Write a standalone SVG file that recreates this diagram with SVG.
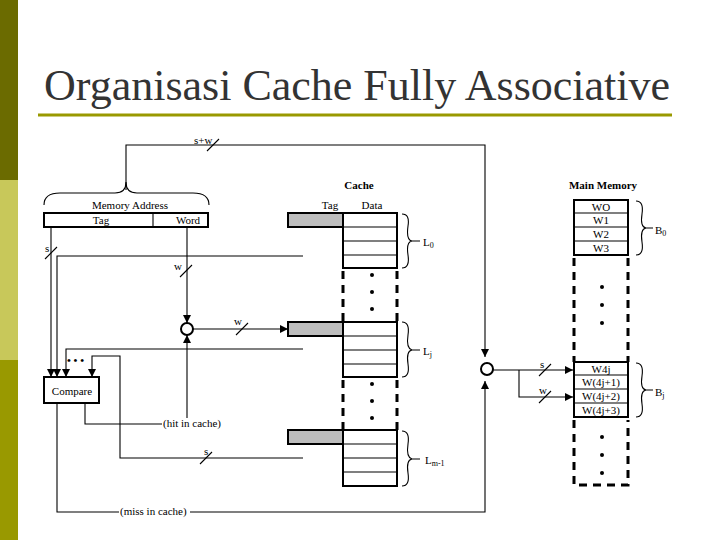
<svg xmlns="http://www.w3.org/2000/svg" width="720" height="540" viewBox="0 0 720 540">
<style>
.l{stroke:#000;stroke-width:1.1;fill:none}
.b{stroke:#000;stroke-width:2;fill:#fff}
.g{stroke:#000;stroke-width:2;fill:#bdbdbd}
.d{stroke:#000;stroke-width:3;stroke-dasharray:8,6;fill:none}
.t{font-family:"Liberation Serif","Times New Roman","DejaVu Serif",serif;font-size:11px;fill:#000}
.title{font-family:"Liberation Serif","Times New Roman","DejaVu Serif",serif;font-size:44px;fill:#333}
.c{text-anchor:middle}
.bo{font-weight:bold}
</style>
<defs><marker id="a" viewBox="0 0 10 10" refX="10" refY="5" markerWidth="8" markerHeight="8" orient="auto" markerUnits="userSpaceOnUse"><path d="M0,0L10,5L0,10z" fill="#000"/></marker></defs>
<rect width="720" height="540" fill="#fff"/>
<rect x="0" y="0" width="18" height="180" fill="#6b6b00"/>
<rect x="0" y="180" width="18" height="180" fill="#c8c85a"/>
<rect x="0" y="360" width="18" height="180" fill="#999900"/>
<text class="title" x="44" y="100">Organisasi Cache Fully Associative</text>
<line x1="38" y1="115" x2="672" y2="115" stroke="#999900" stroke-width="3"/>
<g id="connectors">
<polyline class="l" points="126,190 126,145 485,145 485,357" marker-end="url(#a)"/>
<line class="l" x1="207" y1="151" x2="219" y2="139"/><text class="t" x="194" y="144">s+w</text>
<line class="l" x1="51" y1="227" x2="51" y2="377" marker-end="url(#a)"/>
<line class="l" x1="45" y1="259" x2="57" y2="247"/><text class="t" x="45" y="252">s</text>
<polyline class="l" points="303,256 57,256 57,377" marker-end="url(#a)"/>
<line class="l" x1="187" y1="227" x2="187" y2="323" marker-end="url(#a)"/>
<line class="l" x1="180" y1="277" x2="192" y2="265"/><text class="t" x="174" y="270">w</text>
<line class="l" x1="193" y1="329" x2="288" y2="329" marker-end="url(#a)"/>
<line class="l" x1="236" y1="335" x2="248" y2="323"/><text class="t" x="234" y="325">w</text>
<polyline class="l" points="303,349 66,349 66,377" marker-end="url(#a)"/>
<polyline class="l" points="303,458 120,458 120,356 92,356 92,377" marker-end="url(#a)"/>
<line class="l" x1="200" y1="464" x2="212" y2="452"/><text class="t" x="204" y="455">s</text>
<polyline class="l" points="85,403 85,424 162,424"/>
<line class="l" x1="187" y1="418" x2="187" y2="335" marker-end="url(#a)"/>
<polyline class="l" points="57,403 57,512 119,512"/>
<polyline class="l" points="190,512 485,512 485,381" marker-end="url(#a)"/>
<polyline class="l" points="493,370 573,370" marker-end="url(#a)"/>
<polyline class="l" points="519,370 519,397 573,397" marker-end="url(#a)"/>
<line class="l" x1="539" y1="376" x2="551" y2="364"/><text class="t" x="540" y="368">s</text>
<line class="l" x1="539" y1="403" x2="551" y2="391"/><text class="t" x="539" y="394">w</text>
</g>
<g id="address">
<path class="l" stroke-width="1.8" d="M44,205 Q44,193 60,193 L115,193 Q126,193 126,182 Q126,193 137,193 L193,193 Q209,193 209,205"/>
<text class="t c" x="130" y="209">Memory Address</text>
<rect class="b" x="44" y="213" width="164" height="14" stroke-width="1.5"/>
<line class="l" x1="153" y1="213" x2="153" y2="227" stroke-width="1.5"/>
<text class="t c" x="101" y="224">Tag</text><text class="t c" x="188" y="224">Word</text>
</g>
<g id="compare"><rect class="b" x="44" y="377" width="55" height="26" stroke-width="1.5"/><text class="t c" x="72" y="395">Compare</text>
<text class="t bo" x="67" y="364" font-size="14">• • •</text></g>
<g id="mux1"><circle cx="187" cy="329" r="6" class="b" stroke-width="1.1"/></g>
<g id="mux2"><circle cx="487" cy="369" r="6" class="b" stroke-width="1.1"/></g>
<g id="labels"><text class="t" x="163" y="427">(hit in cache)</text><text class="t" x="120" y="515">(miss in cache)</text></g>
<g id="cache">
<text class="t c bo" x="359" y="189" font-size="12">Cache</text>
<text class="t c" x="330" y="209">Tag</text><text class="t c" x="372" y="209">Data</text>
<rect class="g" x="288" y="213" width="55" height="14"/>
<rect class="b" x="343" y="213" width="54" height="55"/>
<path class="l" stroke-width="2" d="M343,227H397M343,241H397M343,255H397"/>
<rect class="g" x="288" y="322" width="55" height="14"/>
<rect class="b" x="343" y="322" width="54" height="55"/>
<path class="l" stroke-width="2" d="M343,336H397M343,350H397M343,364H397"/>
<rect class="g" x="288" y="430" width="55" height="14"/>
<rect class="b" x="343" y="430" width="54" height="56"/>
<path class="l" stroke-width="2" d="M343,444H397M343,458H397M343,472H397"/>
<path class="d" d="M343,271V322M397,271V322M343,380V430M397,380V430"/>
<g fill="#000"><circle cx="372" cy="275" r="2"/><circle cx="372" cy="292" r="2"/><circle cx="372" cy="309" r="2"/><circle cx="372" cy="384" r="2"/><circle cx="372" cy="401" r="2"/><circle cx="372" cy="418" r="2"/></g>
<path class="l" d="M402,214Q410,214 408,226Q406,240 412,241Q406,242 408,255Q410,268 402,268M412,241H420"/>
<path class="l" d="M402,322Q410,322 408,335Q406,348 412,350Q406,351 408,364Q410,377 402,377M412,350H420"/>
<path class="l" d="M402,431Q410,431 408,444Q406,457 412,459Q406,460 408,473Q410,486 402,486M412,459H420"/>
<text class="t" x="423" y="246">L<tspan font-size="8" dy="2">0</tspan></text>
<text class="t" x="423" y="355">L<tspan font-size="8" dy="2">j</tspan></text>
<text class="t" x="425" y="464">L<tspan font-size="8" dy="2">m-1</tspan></text>
</g>
<g id="memory">
<text class="t c bo" x="603" y="189" font-size="12">Main Memory</text>
<rect class="b" x="574" y="200" width="54" height="55"/>
<path class="l" stroke-width="2" d="M574,213H628M574,227H628M574,241H628"/>
<text class="t c" x="601" y="211">WO</text><text class="t c" x="601" y="224">W1</text><text class="t c" x="601" y="238">W2</text><text class="t c" x="601" y="252">W3</text>
<rect class="b" x="574" y="362" width="54" height="55"/>
<path class="l" stroke-width="2" d="M574,375H628M574,389H628M574,403H628"/>
<text class="t c" x="601" y="373">W4j</text><text class="t c" x="601" y="386">W(4j+1)</text><text class="t c" x="601" y="400">W(4j+2)</text><text class="t c" x="601" y="414">W(4j+3)</text>
<path class="d" d="M574,258V362M628,258V362M574,420V485H628V420"/>
<g fill="#000"><circle cx="602" cy="287" r="2"/><circle cx="602" cy="305" r="2"/><circle cx="602" cy="323" r="2"/><circle cx="602" cy="437" r="2"/><circle cx="602" cy="455" r="2"/><circle cx="602" cy="473" r="2"/></g>
<path class="l" d="M636,201Q644,201 642,214Q640,227 646,228Q640,229 642,242Q644,255 636,255M646,228H653"/>
<path class="l" d="M636,363Q644,363 642,376Q640,389 646,390Q640,391 642,404Q644,417 636,417M646,390H653"/>
<text class="t" x="655" y="234">B<tspan font-size="8" dy="2">0</tspan></text>
<text class="t" x="655" y="396">B<tspan font-size="8" dy="2">j</tspan></text>
</g>
</svg>
